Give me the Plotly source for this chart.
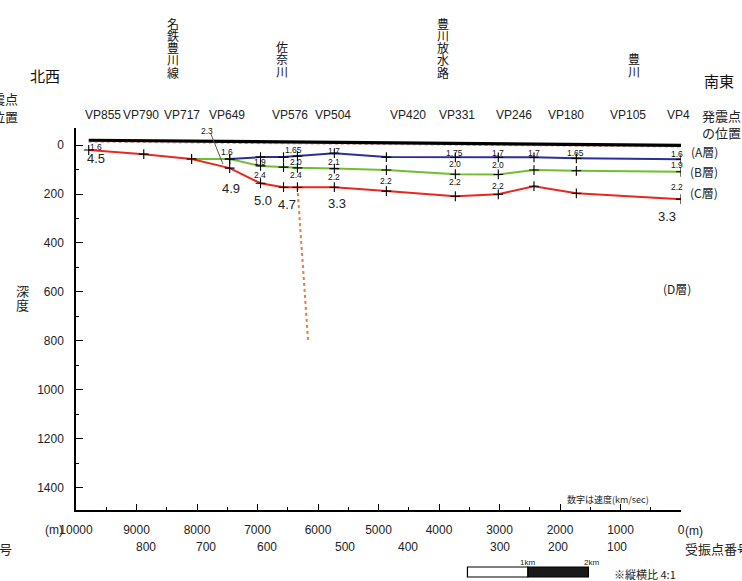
import plotly.graph_objects as go

# ---- section data (distance in m from the south-east end, depth in m) ----
shot_dist = [9790, 8880, 8090, 7460, 6950, 6570, 6340, 5730, 4870, 3730, 3020, 2430, 1730, 0]
c_base_depth = [20, 37, 57, 94, 156, 172, 172, 172, 188, 209, 201, 168, 197, 221]
b_dist = [8090, 7460, 6950, 6570, 6340, 5730, 4870, 3730, 3020, 2430, 1730, 0]
b_base_depth = [57, 57, 85, 90, 93, 96, 102, 119, 120, 102, 105, 109]
a_dist = [7460, 6950, 6570, 6340, 5730, 4870, 3730, 3020, 2430, 1730, 0]
a_base_depth = [57, 49, 49, 45, 33, 49, 50, 50, 50, 54, 58]
surface_dist = [9790, 0]
surface_depth = [-20, 1]
datum_depth = [-12, 8]
fault_dist = [6340, 6165]
fault_depth = [172, 797]

# velocity labels (km/sec)
small_vel_text = ["1.6", "1.6", "1.9", "2.4", "1.65", "2.0", "2.4", "1.7", "2.1", "2.2", "2.2",
                  "1.75", "2.0", "2.2", "1.7", "2.0", "2.2", "1.7", "1.65", "1.6", "1.9", "2.2"]
small_vel_dist = [9669, 7510, 6959, 6959, 6413, 6364, 6364, 5736, 5736, 5736, 4876,
                  3736, 3736, 3736, 3025, 3025, 3025, 2430, 1736, 66, 66, 66]
small_vel_depth = [8, 29, 70, 123, 20, 70, 123, 25, 70, 131, 147,
                   33, 78, 151, 33, 82, 168, 33, 33, 37, 82, 172]
big_vel_text = ["4.5", "4.9", "5.0", "4.7", "3.3", "3.3"]
big_vel_dist = [9669, 7438, 6909, 6512, 5686, 231]
big_vel_depth = [53, 176, 225, 241, 237, 290]

# axis labels
dist_ticks = [10000, 9000, 8000, 7000, 6000, 5000, 4000, 3000, 2000, 1000, 0]
depth_ticks = [0, 200, 400, 600, 800, 1000, 1200, 1400]
recv_labels = ["800", "700", "600", "500", "400", "300", "200", "100"]
recv_dist = [8843, 7851, 6843, 5554, 4512, 2992, 2033, 1058]
vp_labels = ["VP855", "VP790", "VP717", "VP649", "VP576", "VP504",
             "VP420", "VP331", "VP246", "VP180", "VP105", "VP4"]
vp_px = [103, 141, 182, 227, 290, 333, 408, 457, 514, 566, 628, 678]
places = ["名鉄豊川線", "佐奈川", "豊川放水路", "豊川"]
places_px = [173, 282, 443, 634]
places_bottom_px = [78, 77, 78, 77]
layer_labels = ["(A層)", "(B層)", "(C層)", "(D層)"]
layer_px = [(704, 151), (704, 171), (704, 192), (677, 288)]

W, H = 742, 581
L, R, T, B = 76, 61, 128, 71
PW, PH = W - L - R, H - T - B

JP = "Noto Sans CJK JP"
NUM = "Liberation Sans Narrow, Liberation Sans, Arial"


def px(xp):
    return (xp - L) / PW


def py(yp):
    return (H - B - yp) / PH


def label(x, y, text, size, family=NUM, xref="paper", yref="paper",
          xanchor="center", color="#222"):
    return dict(x=x, y=y, xref=xref, yref=yref, text=text, showarrow=False,
                xanchor=xanchor, yanchor="middle",
                font=dict(family=family, size=size, color=color))


fig = go.Figure()

cross = dict(symbol="cross-thin", size=7, line=dict(color="black", width=1.1))

fig.add_trace(go.Scatter(x=surface_dist, y=datum_depth, mode="lines",
                         line=dict(color="rgba(220,110,110,0.7)", width=1, dash="dot"),
                         hoverinfo="skip"))
fig.add_trace(go.Scatter(x=surface_dist, y=surface_depth, mode="lines",
                         line=dict(color="black", width=3.2), hoverinfo="skip"))
fig.add_trace(go.Scatter(x=fault_dist, y=fault_depth, mode="lines",
                         line=dict(color="#f07a3a", width=2, dash="dot"), hoverinfo="skip"))
fig.add_trace(go.Scatter(x=b_dist, y=b_base_depth, mode="lines+markers",
                         line=dict(color="#6fbf2f", width=2), marker=cross))
fig.add_trace(go.Scatter(x=shot_dist, y=c_base_depth, mode="lines+markers",
                         line=dict(color="#e8281e", width=2), marker=cross))
fig.add_trace(go.Scatter(x=a_dist, y=a_base_depth, mode="lines+markers",
                         line=dict(color="#2b2f9a", width=2), marker=cross))

ann = []
for t, d, z in zip(small_vel_text, small_vel_dist, small_vel_depth):
    ann.append(label(d, z, t, 8.5, xref="x", yref="y", color="#111"))
for t, d, z in zip(big_vel_text, big_vel_dist, big_vel_depth):
    ann.append(label(d, z, t, 13, xref="x", yref="y"))
# 2.3 label with its leader line
ann.append(label(7835, -57, "2.3", 8.5, xref="x", yref="y", color="#111"))

# distance labels row
ann.append(label(px(54), py(530), "(m)", 12))
ann.append(label(px(694), py(531), "(m)", 12))
for t, d in zip(recv_labels, recv_dist):
    ann.append(label(d, py(547), t, 12, xref="x"))
ann.append(label(px(683), py(548), "受振点番号", 13, family=JP, xanchor="left"))
ann.append(label(px(14), py(548), "受振点番号", 13, family=JP, xanchor="right"))

# shot point row
for t, xp in zip(vp_labels, vp_px):
    ann.append(label(px(xp), py(115), t, 12))
ann.append(label(px(700), py(115), "発震点", 13, family=JP, xanchor="left"))
ann.append(label(px(700), py(132), "の位置", 13, family=JP, xanchor="left"))
ann.append(label(px(20), py(99), "発震点", 13, family=JP, xanchor="right"))
ann.append(label(px(20), py(117), "の位置", 13, family=JP, xanchor="right"))

ann.append(label(px(45), py(76), "北西", 15, family=JP, color="#111"))
ann.append(label(px(719), py(80), "南東", 15, family=JP, color="#111"))

# vertical place names, one character per line
for name, xp, yb in zip(places, places_px, places_bottom_px):
    n = len(name)
    for i, ch in enumerate(name):
        yc = yb - 6 - (n - 1 - i) * 12.2
        ann.append(label(px(xp), py(yc), ch, 12, family=JP, color="#111"))
for i, ch in enumerate("深度"):
    ann.append(label(px(22), py(290 + i * 14), ch, 13, family=JP))

for t, (xp, yp) in zip(layer_labels, layer_px):
    ann.append(label(px(xp), py(yp), t, 12, family=JP))

ann.append(label(px(608), py(499), "数字は速度(km/sec)", 9, family=JP))

# scale bar labels
ann.append(label(2530, py(562), "1km", 8, xref="x"))
ann.append(label(1480, py(562), "2km", 8, xref="x"))
ann.append(label(px(645), py(574), "※縦横比 4:1", 11, family=JP))

shapes = [
    dict(type="line", xref="x", yref="y", x0=7769, y0=-45, x1=7570, y1=78,
         line=dict(color="#555", width=1)),
    dict(type="rect", xref="x", yref="paper", x0=3530, x1=2530, y0=py(577), y1=py(567),
         line=dict(color="black", width=1.2), fillcolor="white"),
    dict(type="rect", xref="x", yref="paper", x0=2530, x1=1530, y0=py(577), y1=py(567),
         line=dict(color="black", width=1.2), fillcolor="#1a1a1a"),
]

fig.update_layout(
    width=W, height=H,
    margin=dict(l=L, r=R, t=T, b=B, pad=0),
    paper_bgcolor="white", plot_bgcolor="white",
    showlegend=False,
    annotations=ann, shapes=shapes,
    font=dict(family=NUM, size=12, color="#222"),
)
fig.update_xaxes(
    range=[10000, 0], showgrid=False, zeroline=False,
    showline=True, linecolor="black", linewidth=1.5,
    ticks="inside", ticklen=6, tickcolor="black", tickwidth=1.2,
    tickvals=dist_ticks, ticktext=[str(v) for v in dist_ticks],
    tickfont=dict(family=NUM, size=12, color="#222"),
    ticklabelstandoff=8,
    minor=dict(dtick=500, ticks="inside", ticklen=3, tickcolor="black"),
)
fig.update_yaxes(
    range=[1492, -70], showgrid=False, zeroline=False,
    showline=True, linecolor="black", linewidth=1.5,
    ticks="inside", ticklen=7, tickcolor="black", tickwidth=1.2,
    tickvals=depth_ticks, ticktext=[str(v) for v in depth_ticks],
    tickfont=dict(family=NUM, size=12, color="#222"),
    ticklabelstandoff=8,
    minor=dict(dtick=100, ticks="inside", ticklen=3, tickcolor="black"),
)

fig.write_html("out.html")
